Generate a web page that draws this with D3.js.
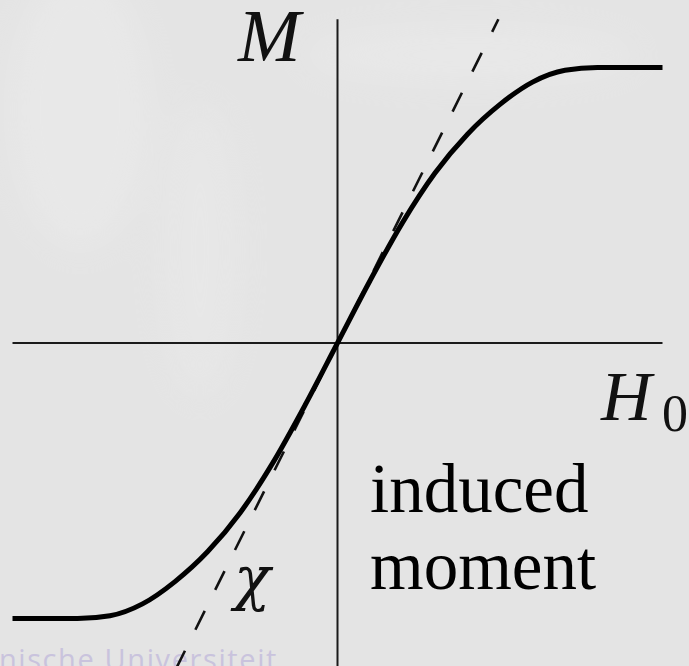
<!DOCTYPE html>
<html>
<head>
<meta charset="utf-8">
<script src="https://cdn.jsdelivr.net/npm/d3@7"></script>
<style>
  html, body { margin: 0; padding: 0; background: #e5e5e5; }
  svg { display: block; }
</style>
</head>
<body>
<svg id="chart" width="689" height="666"></svg>
<script>
// Magnetisation curve: applied field H0 against induced moment M (symmetric, saturating)
const fieldH  = [-1.0, -0.8, -0.7, -0.6, -0.5, -0.4, -0.3, -0.2, -0.1, 0.0, 0.1, 0.2, 0.3, 0.4, 0.5, 0.6, 0.7, 0.8, 1.0];
const momentM = [-1.0, -1.0, -0.99, -0.947, -0.866, -0.758, -0.617, -0.437, -0.226, 0.0, 0.226, 0.437, 0.617, 0.758, 0.866, 0.947, 0.99, 1.0, 1.0];

// Initial susceptibility chi: tangent through the origin
const tangentH = [0.495, -0.5];
const tangentM = [1.175, -1.19];

// Axis extents
const axisH = [-1, 1];
const axisM = [1.175, -1.2];

const W = 689, H = 666;
const svg = d3.select("#chart");

const x = d3.scaleLinear().domain([-1, 1]).range([12.5, 662.5]);
const y = d3.scaleLinear().domain([-1, 1]).range([618.5, 67.5]);

// background with faint light streaks
const defs = svg.append("defs");
const blur = defs.append("filter").attr("id", "soft").attr("x", "-50%").attr("y", "-50%").attr("width", "200%").attr("height", "200%");
blur.append("feGaussianBlur").attr("stdDeviation", 18);
svg.append("rect").attr("width", W).attr("height", H).attr("fill", "#e4e4e4");
const streaks = svg.append("g").attr("filter", "url(#soft)").attr("opacity", 0.45);
streaks.append("ellipse").attr("cx", 80).attr("cy", 110).attr("rx", 70).attr("ry", 140).attr("fill", "#eeeeee");
streaks.append("ellipse").attr("cx", 470).attr("cy", 55).attr("rx", 170).attr("ry", 28).attr("fill", "#eeeeee");
streaks.append("ellipse").attr("cx", 200).attr("cy", 250).attr("rx", 40).attr("ry", 150).attr("fill", "#ebebeb");

// watermark
svg.append("text")
  .attr("x", 278).attr("y", 670)
  .attr("text-anchor", "end")
  .attr("font-family", "'Open Sans', 'Noto Sans', sans-serif")
  .attr("font-size", 29)
  .attr("letter-spacing", 1.6)
  .attr("fill", "#c9c3dd")
  .text("Technische Universiteit");

// axes
const g = svg.append("g");
g.append("line")
  .attr("x1", x(axisH[0])).attr("x2", x(axisH[1]))
  .attr("y1", y(0)).attr("y2", y(0))
  .attr("stroke", "#1a1a1a").attr("stroke-width", 2);
g.append("line")
  .attr("x1", x(0)).attr("x2", x(0))
  .attr("y1", y(axisM[0])).attr("y2", y(axisM[1]))
  .attr("stroke", "#1a1a1a").attr("stroke-width", 2);

// tangent line (dashed)
const tangent = d3.line().x(d => x(d[0])).y(d => y(d[1]));
g.append("path")
  .attr("d", tangent(d3.zip(tangentH, tangentM)))
  .attr("fill", "none")
  .attr("stroke", "#111")
  .attr("stroke-width", 2.6)
  .attr("stroke-dasharray", "21 23.5")
  .attr("stroke-dashoffset", 7);

// magnetisation curve
const curve = d3.line().x(d => x(d[0])).y(d => y(d[1])).curve(d3.curveMonotoneX);
g.append("path")
  .attr("d", curve(d3.zip(fieldH, momentM)))
  .attr("fill", "none")
  .attr("stroke", "#000")
  .attr("stroke-width", 5)
  .attr("stroke-linejoin", "round");

// labels
const serif = "'Liberation Serif', 'Times New Roman', serif";
svg.append("text")
  .attr("x", 238).attr("y", 61)
  .attr("font-family", serif).attr("font-style", "italic")
  .attr("font-size", 75)
  .attr("fill", "#111")
  .text("M");

const hLabel = svg.append("text")
  .attr("x", 601).attr("y", 420)
  .attr("font-family", serif)
  .attr("fill", "#111");
hLabel.append("tspan").attr("font-style", "italic").attr("font-size", 70).text("H");
hLabel.append("tspan").attr("x", 662).attr("y", 431).attr("font-size", 52).text("0");

svg.append("text")
  .attr("x", 234).attr("y", 599)
  .attr("font-family", "'DejaVu Serif', serif").attr("font-style", "italic")
  .attr("font-size", 60)
  .attr("fill", "#111")
  .text("χ");

const note = svg.append("text")
  .attr("font-family", serif)
  .attr("font-size", 69)
  .attr("fill", "#000");
note.append("tspan").attr("x", 370).attr("y", 512).text("induced");
note.append("tspan").attr("x", 370).attr("y", 589).text("moment");
</script>
</body>
</html>
